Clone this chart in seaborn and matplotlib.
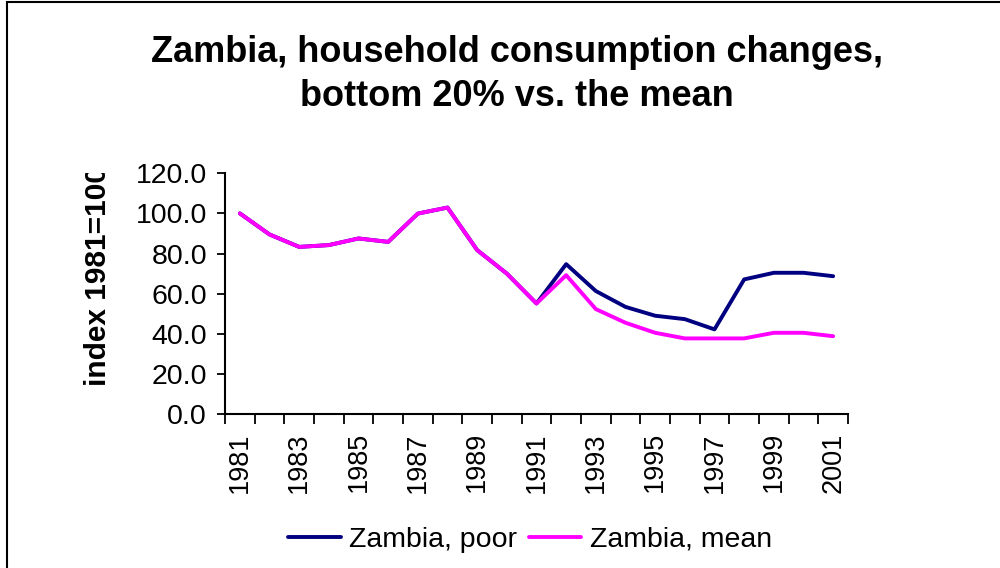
import matplotlib
matplotlib.use("Agg")
import matplotlib.pyplot as plt
from matplotlib.patches import Rectangle
from matplotlib.transforms import Bbox
import seaborn as sns
import pandas as pd
import numpy as np

# index 1981=100
years = list(range(1981, 2002))
poor = [100.0, 89.5, 83.3, 84.2, 87.5, 85.8, 99.9, 102.9, 81.7, 70.0, 55.1,
        74.7, 61.3, 53.4, 49.0, 47.3, 42.2, 67.1, 70.4, 70.4, 68.7]
mean = [100.0, 89.5, 83.3, 84.2, 87.5, 85.8, 99.9, 102.9, 81.7, 70.0, 55.1,
        69.2, 52.3, 45.5, 40.5, 37.7, 37.7, 37.7, 40.5, 40.5, 38.8]
series_names = ["Zambia, poor", "Zambia, mean"]
series_colors = ["#000080", "#FF00FF"]
yticks = [0, 20, 40, 60, 80, 100, 120]

sns.set_style("white")
plt.rcParams["font.family"] = ["Liberation Sans", "DejaVu Sans"]
plt.rcParams["text.color"] = "black"
plt.rcParams["xtick.color"] = "black"
plt.rcParams["ytick.color"] = "black"

df = pd.DataFrame({"pos": np.arange(len(years)), "year": years,
                   series_names[0]: poor, series_names[1]: mean})
df_long = df.melt(id_vars=["pos", "year"], value_vars=series_names,
                  var_name="series", value_name="index")

fig = plt.figure(figsize=(10, 5.68), dpi=100)
ax = fig.add_axes([0.225, 0.271, 0.623, 0.424])

sns.lineplot(data=df_long, x="pos", y="index", hue="series",
             hue_order=series_names, palette=series_colors,
             linewidth=2.8, ax=ax, legend=False, sort=False)

ax.set_xlim(-0.5, len(years) - 0.5)
ax.set_ylim(0, 120)
ax.set_yticks(yticks)
ax.set_yticklabels([f"{v:.1f}" for v in yticks], fontsize=20.5)

# labels at category centres (every other year), tick marks between categories
ax.set_xticks(np.arange(0, len(years), 2))
ax.set_xticklabels([str(y) for y in years[::2]], rotation=90, fontsize=19.5)
ax.set_xticks(np.arange(-0.5, len(years), 1), minor=True)
ax.tick_params(axis="x", which="major", length=0, pad=13)
ax.tick_params(axis="x", which="minor", length=7, width=1.3, direction="out",
               bottom=True)
ax.tick_params(axis="y", length=6, width=1.3, direction="out", left=True, pad=7)

for side in ["top", "right"]:
    ax.spines[side].set_visible(False)
for side in ["left", "bottom"]:
    ax.spines[side].set_color("black")
    ax.spines[side].set_linewidth(1.5)
ax.set_xlabel("")
ax.set_ylabel("")

# y label, cut off at the top of the plot area like in the original
ylab = fig.text(0.098, 1 - 386 / 568, "index 1981=100", rotation=90,
                ha="center", va="bottom", fontsize=21.5, fontweight="bold")
ylab.set_clip_box(Bbox.from_extents(0, 0, 1000, 568 - 173))
ylab.set_clip_on(True)

fig.text(0.517, 1 - 52 / 568, "Zambia, household consumption changes,",
         ha="center", va="center", fontsize=26, fontweight="bold")
fig.text(0.517, 1 - 96 / 568, "bottom 20% vs. the mean",
         ha="center", va="center", fontsize=26, fontweight="bold")

handles = [plt.Line2D([], [], color=c, lw=2.8) for c in series_colors]
fig.legend(handles, series_names, loc="center", bbox_to_anchor=(0.53, 1 - 540 / 568),
           ncol=2, frameon=False, fontsize=20.5, handlelength=1.85,
           handletextpad=0.3, columnspacing=0.4)

# outer chart border
fig.patches.append(Rectangle((0.007, -0.05), 1.05, 1.046,
                             transform=fig.transFigure, fill=False,
                             edgecolor="black", linewidth=1.5))

fig.savefig("out.png", dpi=100)
